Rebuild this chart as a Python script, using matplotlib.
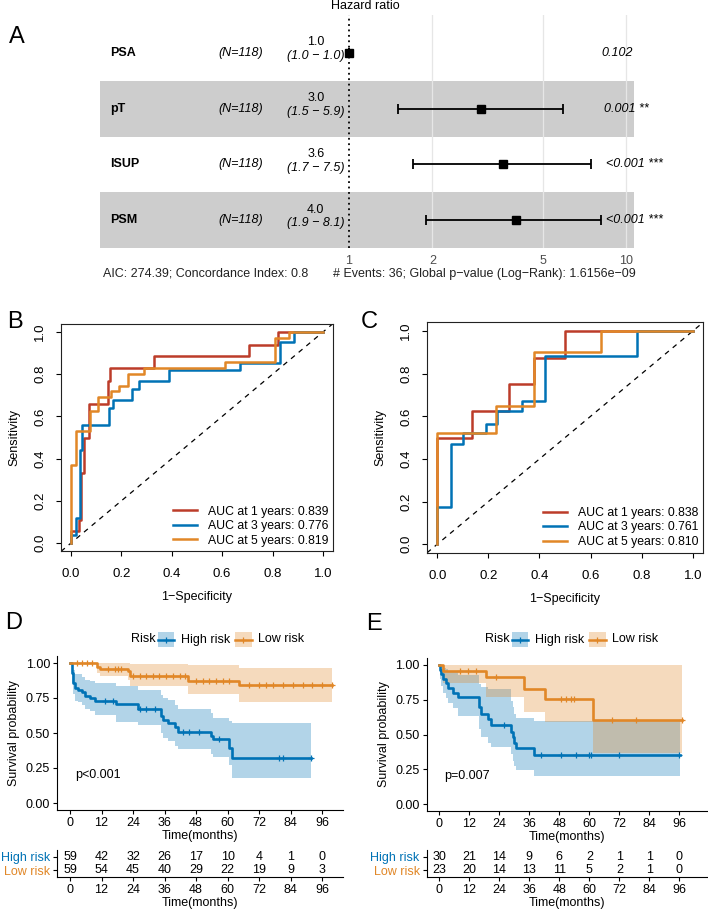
import numpy as np
import matplotlib
matplotlib.use('Agg')
import matplotlib.pyplot as plt
from matplotlib.patches import Rectangle
from matplotlib.ticker import NullLocator
from matplotlib.transforms import blended_transform_factory

plt.rcParams['font.family'] = ['Liberation Sans', 'DejaVu Sans']

# ---- A: forest plot (multivariate cox) ----
vars_a = ['PSA', 'pT', 'ISUP', 'PSM']
n_a = ['(N=118)', '(N=118)', '(N=118)', '(N=118)']
hr_a = np.array([1.0, 3.0, 3.6, 4.0])
lo_a = np.array([1.0, 1.5, 1.7, 1.9])
hi_a = np.array([1.0, 5.9, 7.5, 8.1])
p_a = ['0.102', '0.001 **', '<0.001 ***', '<0.001 ***']
footer_left = 'AIC: 274.39; Concordance Index: 0.8'
footer_right = '# Events: 36; Global p\u2212value (Log\u2212Rank): 1.6156e\u221209'

# ---- B / C: time dependent ROC (fpr, tpr corner points) ----
roc_b = {
    1: ([0, 0, 0.03, 0.04, 0.05, 0.07, 0.145, 0.155, 0.33, 0.705, 0.82, 1.0],
        [0, 0.055, 0.11, 0.33, 0.5, 0.66, 0.77, 0.83, 0.885, 0.94, 1.0, 1.0]),
    3: ([0, 0, 0.02, 0.035, 0.045, 0.15, 0.165, 0.24, 0.27, 0.39, 0.67, 0.83, 0.885, 1.0],
        [0, 0.04, 0.12, 0.44, 0.56, 0.64, 0.68, 0.73, 0.77, 0.82, 0.855, 0.955, 1.0, 1.0]),
    5: ([0, 0, 0.02, 0.075, 0.105, 0.16, 0.19, 0.225, 0.29, 0.61, 0.81, 0.865, 1.0],
        [0, 0.37, 0.53, 0.625, 0.69, 0.72, 0.745, 0.80, 0.83, 0.86, 0.97, 1.0, 1.0]),
}
auc_b = {1: 0.839, 3: 0.776, 5: 0.819}
roc_c = {
    1: ([0, 0, 0.135, 0.28, 0.38, 0.5, 1.0],
        [0, 0.5, 0.625, 0.75, 0.875, 1.0, 1.0]),
    3: ([0, 0, 0.055, 0.1, 0.19, 0.235, 0.33, 0.42, 0.78, 1.0],
        [0, 0.175, 0.47, 0.52, 0.565, 0.625, 0.67, 0.885, 1.0, 1.0]),
    5: ([0, 0, 0.23, 0.38, 0.64, 1.0],
        [0, 0.52, 0.65, 0.9, 1.0, 1.0]),
}
auc_c = {1: 0.838, 3: 0.761, 5: 0.810}
roc_colors = {1: '#BC3C29', 3: '#0072B5', 5: '#E18727'}

# ---- D: KM training set ----
d_high_t = [0, 0.6, 1.3, 1.9, 3.2, 4.4, 5.7, 7.6, 9.5, 17.7, 25.9, 34.8, 35.4, 37.3, 39.9, 41.1, 53.8, 54.4, 60.7, 61.7, 91.7]
d_high_s = [1.0, 0.93, 0.86, 0.82, 0.81, 0.79, 0.765, 0.75, 0.73, 0.71, 0.67, 0.62, 0.59, 0.575, 0.54, 0.51, 0.48, 0.455, 0.39, 0.325, 0.325]
d_high_up = [1.0, 0.99, 0.95, 0.92, 0.92, 0.90, 0.88, 0.87, 0.855, 0.835, 0.81, 0.775, 0.75, 0.735, 0.70, 0.67, 0.64, 0.61, 0.585, 0.57, 0.57]
d_high_lo = [1.0, 0.86, 0.78, 0.73, 0.72, 0.70, 0.675, 0.655, 0.63, 0.58, 0.555, 0.50, 0.465, 0.445, 0.41, 0.385, 0.35, 0.33, 0.27, 0.18, 0.18]
d_high_cens = [13.3, 16.5, 26.6, 29.1, 32.3, 43, 45.5, 49.3, 56.9, 79.7, 81, 91.7]
d_low_t = [0, 10.1, 11.4, 22.1, 22.8, 44.9, 64.3, 99.7]
d_low_s = [1.0, 0.97, 0.955, 0.94, 0.905, 0.875, 0.84, 0.84]
d_low_up = [1.0, 1.0, 1.0, 1.0, 0.99, 0.985, 0.965, 0.965]
d_low_lo = [1.0, 0.93, 0.91, 0.88, 0.835, 0.78, 0.72, 0.72]
d_low_cens = [2.5, 4.4, 6.3, 8.2, 14.5, 17.1, 18.3, 19.6, 24, 26.6, 29, 31.6, 34, 36.7, 39.2, 41.7,
              43.6, 48, 50.6, 53, 55.7, 58.2, 60.7, 68.3, 72, 74.6, 77.2, 81, 84.8, 88.6, 92.3, 96, 99.7]
d_risk_high = [59, 42, 32, 26, 17, 10, 4, 1, 0]
d_risk_low = [59, 54, 45, 40, 29, 22, 19, 9, 3]

# ---- E: KM validation set ----
e_high_t = [0, 0.4, 0.8, 1.4, 2.5, 3.4, 5.4, 7.4, 16.0, 16.6, 19.4, 20.7, 28.7, 29.4, 30.0, 30.7, 38.0, 96.4]
e_high_s = [1.0, 0.967, 0.933, 0.90, 0.867, 0.833, 0.80, 0.767, 0.70, 0.65, 0.613, 0.57, 0.52, 0.48, 0.44, 0.40, 0.35, 0.35]
e_high_up = [1.0, 1.0, 0.99, 0.98, 0.97, 0.96, 0.95, 0.93, 0.86, 0.84, 0.83, 0.825, 0.74, 0.70, 0.65, 0.62, 0.595, 0.595]
e_high_lo = [1.0, 0.90, 0.85, 0.80, 0.76, 0.73, 0.69, 0.63, 0.54, 0.48, 0.44, 0.41, 0.36, 0.31, 0.27, 0.245, 0.20, 0.20]
e_high_cens = [26, 40.6, 48.6, 54.6, 59.9, 60.5, 71.8, 95.7]
e_low_t = [0, 1.4, 18.7, 34.0, 42.4, 61.5, 97.0]
e_low_s = [1.0, 0.957, 0.91, 0.83, 0.755, 0.605, 0.605]
e_low_up = [1.0, 1.0, 1.0, 1.0, 1.0, 1.0, 1.0]
e_low_lo = [1.0, 0.873, 0.768, 0.66, 0.59, 0.365, 0.365]
e_low_cens = [8.1, 11.4, 14.7, 22.7, 48.6, 50.6, 52.6, 53.9, 69.2, 78.5, 97.0]
e_risk_high = [30, 21, 14, 9, 6, 2, 1, 1, 0]
e_risk_low = [23, 20, 14, 13, 11, 5, 2, 1, 0]

risk_times = [0, 12, 24, 36, 48, 60, 72, 84, 96]
blue = '#0072B5'
orange = '#E18727'

W, H = 708, 911
fig = plt.figure(figsize=(W / 100, H / 100), dpi=100)


def px_axes(x0, y0, x1, y1):
    # axes placed with pixel coords measured from the top-left corner
    return fig.add_axes([x0 / W, 1 - y1 / H, (x1 - x0) / W, (y1 - y0) / H])


# overlay for letters, legends and free text
ov = fig.add_axes([0, 0, 1, 1], zorder=10)
ov.set_xlim(0, W)
ov.set_ylim(H, 0)
ov.axis('off')
ov.patch.set_alpha(0)

# ================= A =================
fa = px_axes(100, 15, 634, 248)
fa.set_xscale('log')
fa.set_xlim(10 ** ((100 - 349) / 277), 10 ** ((634 - 349) / 277))
fa.set_ylim(4.5, 0.32)
rows = np.arange(1, len(vars_a) + 1)
for r in rows:
    if r % 2 == 0:
        fa.axhspan(r - 0.5, r + 0.5, color='#CDCDCD', lw=0, zorder=0)
for g in [2, 5, 10]:
    fa.axvline(g, color='#E6E6E6', lw=0.9, zorder=1)
fa.axvline(1, color='black', lw=1.3, ls=(0, (1, 2)), zorder=2)
fa.errorbar(hr_a, rows, xerr=[hr_a - lo_a, hi_a - hr_a], fmt='s', color='black', ms=6,
            elinewidth=1.3, capsize=3.6, capthick=1.3, zorder=3)
tr = blended_transform_factory(fa.transAxes, fa.transData)
p_texts = []
for r, v, n, h, l, u, p in zip(rows, vars_a, n_a, hr_a, lo_a, hi_a, p_a):
    fa.text(0.019, r, v, transform=tr, fontsize=9, fontweight='bold', va='center', ha='left')
    fa.text(0.264, r, n, transform=tr, fontsize=9, style='italic', va='center', ha='center')
    fa.text(0.404, r - 0.19, '%.1f' % h, transform=tr, fontsize=9, va='center', ha='center')
    fa.text(0.404, r + 0.06, '(%.1f \u2212 %.1f)' % (l, u), transform=tr, fontsize=9,
            style='italic', va='center', ha='center')
    p_texts.append(fa.text(0.927, r, p, transform=tr, fontsize=9, style='italic',
                           va='center', ha='left'))
fa.xaxis.set_minor_locator(NullLocator())
fa.set_xticks([1, 2, 5, 10])
fa.set_xticklabels(['1', '2', '5', '10'])
fa.tick_params(axis='x', length=0, pad=5, labelsize=9, labelcolor='#4D4D4D')
fa.set_yticks([])
for s in fa.spines.values():
    s.set_visible(False)
fa.patch.set_alpha(0)

# ggforest style hjust=-0.2 for the p-value column
renderer = fig.canvas.get_renderer()
for t in p_texts:
    w = t.get_window_extent(renderer).width
    x, y = t.get_position()
    t.set_position((x + 0.2 * w / 534, y))

ov.text(365, 6, 'Hazard ratio', fontsize=9, ha='center', va='center')
ov.text(103, 274, footer_left, fontsize=9, ha='left', va='center', color='#222222')
ov.text(333, 274, footer_right, fontsize=9, ha='left', va='center', color='#222222')


# ================= B / C =================
def roc_panel(ax, curves, aucs):
    ax.set_xlim(-0.04, 1.04)
    ax.set_ylim(-0.04, 1.04)
    ax.axline((0, 0), (1, 1), color='black', lw=0.9, ls=(0, (4, 4)))
    handles = []
    labels = []
    for yr in [1, 3, 5]:
        fx, fy = curves[yr]
        ln, = ax.step(fx, fy, where='post', color=roc_colors[yr], lw=1.8)
        handles.append(ln)
        labels.append('AUC at %d years: %.3f' % (yr, aucs[yr]))
    ticks = [0, 0.2, 0.4, 0.6, 0.8, 1.0]
    ax.set_xticks(ticks)
    ax.set_yticks(ticks)
    ax.set_xticklabels(['%.1f' % t for t in ticks])
    ax.set_yticklabels(['%.1f' % t for t in ticks], rotation=90, va='center')
    ax.tick_params(axis='x', length=3.6, width=0.8, pad=8.5, labelsize=9.5)
    ax.tick_params(axis='y', length=3.6, width=0.8, pad=7, labelsize=9.5)
    for s in ax.spines.values():
        s.set_linewidth(0.8)
        s.set_color('#222222')
    ax.set_ylabel('Sensitivity', fontsize=9, labelpad=10)
    ax.set_xlabel('1\u2212Specificity', fontsize=9, labelpad=8)
    ax.legend(handles, labels, loc='lower right', frameon=False, fontsize=8.8,
              handlelength=2.0, handletextpad=0.85, labelspacing=0.2,
              borderpad=0.2, borderaxespad=0.2)


ax_b = px_axes(61, 323.6, 333, 551.4)
roc_panel(ax_b, roc_b, auc_b)
ax_c = px_axes(427, 322.5, 703, 552.8)
roc_panel(ax_c, roc_c, auc_c)


# ================= D / E =================
def step_at(t, s, c):
    idx = np.searchsorted(t, c, side='right') - 1
    return np.asarray(s)[idx]


def km_panel(ax, groups, ptext, xlim):
    ax.set_xlim(*xlim)
    ax.set_ylim(-0.05, 1.05)
    for t, s, up, lo, cens, col in groups:
        ax.fill_between(t, lo, up, step='post', color=col, alpha=0.3, lw=0)
    for t, s, up, lo, cens, col in groups:
        ax.step(t, s, where='post', color=col, lw=1.9)
        ax.plot(cens, step_at(np.array(t), s, np.array(cens)), ls='none', marker='+',
                ms=4.5, mew=0.9, color=col)
    ax.text(2, 0.2, ptext, fontsize=9, ha='left', va='center')
    ax.set_xticks(risk_times)
    ax.set_yticks([0, 0.25, 0.5, 0.75, 1.0])
    ax.set_yticklabels(['0.00', '0.25', '0.50', '0.75', '1.00'])
    ax.tick_params(length=2.75, width=0.8, pad=2.2, labelsize=9)
    ax.spines['top'].set_visible(False)
    ax.spines['right'].set_visible(False)
    for s in ['left', 'bottom']:
        ax.spines[s].set_linewidth(0.8)
    ax.set_xlabel('Time(months)', fontsize=9, labelpad=1)
    ax.set_ylabel('Survival probability', fontsize=9, labelpad=4)


def risk_table(ax, high, low, xlim):
    ax.set_xlim(*xlim)
    ax.set_ylim(0.5, 2.5)
    for t, a, b in zip(risk_times, high, low):
        ax.text(t, 2, str(a), fontsize=9, ha='center', va='center')
        ax.text(t, 1, str(b), fontsize=9, ha='center', va='center')
    ax.set_yticks([2, 1])
    ax.set_yticklabels(['High risk', 'Low risk'])
    for lab, col in zip(ax.get_yticklabels(), [blue, orange]):
        lab.set_color(col)
    ax.set_xticks(risk_times)
    ax.tick_params(length=2.75, width=0.8, pad=2.2, labelsize=9)
    ax.spines['top'].set_visible(False)
    ax.spines['right'].set_visible(False)
    for s in ['left', 'bottom']:
        ax.spines[s].set_linewidth(0.8)
    ax.set_xlabel('Time(months)', fontsize=9, labelpad=1)


def km_legend(x0):
    yc = 639.5
    ov.text(x0, yc, 'Risk', fontsize=9, ha='left', va='center')
    for dx, col, lab in [(26.6, blue, 'High risk'), (103.7, orange, 'Low risk')]:
        ov.add_patch(Rectangle((x0 + dx, yc - 7.5), 16.8, 15, color=col, alpha=0.3, lw=0))
        ov.plot([x0 + dx, x0 + dx + 16.8], [yc, yc], color=col, lw=1.8)
        ov.plot([x0 + dx + 8.4], [yc], marker='+', ms=4.5, mew=0.9, color=col)
        ov.text(x0 + dx + 23.4, yc, lab, fontsize=9, ha='left', va='center')


xlim_d = (-4.95, 103.95)
ax_d = px_axes(57, 656, 343, 810)
km_panel(ax_d, [(d_high_t, d_high_s, d_high_up, d_high_lo, d_high_cens, blue),
                (d_low_t, d_low_s, d_low_up, d_low_lo, d_low_cens, orange)], 'p<0.001', xlim_d)
rt_d = px_axes(57, 850, 343, 877)
risk_table(rt_d, d_risk_high, d_risk_low, xlim_d)
km_legend(131)

xlim_e = (-5.1, 107)
ax_e = px_axes(426.5, 658, 707, 811)
km_panel(ax_e, [(e_high_t, e_high_s, e_high_up, e_high_lo, e_high_cens, blue),
                (e_low_t, e_low_s, e_low_up, e_low_lo, e_low_cens, orange)], 'p=0.007', xlim_e)
rt_e = px_axes(426.5, 850, 707, 877)
risk_table(rt_e, e_risk_high, e_risk_low, xlim_e)
km_legend(485)

# panel letters
for letter, x, y in [('A', 9, 37), ('B', 7, 322), ('C', 361, 322), ('D', 5, 623), ('E', 366, 624)]:
    ov.text(x, y, letter, fontsize=17, ha='left', va='center')

fig.savefig('out.png', dpi=100)
